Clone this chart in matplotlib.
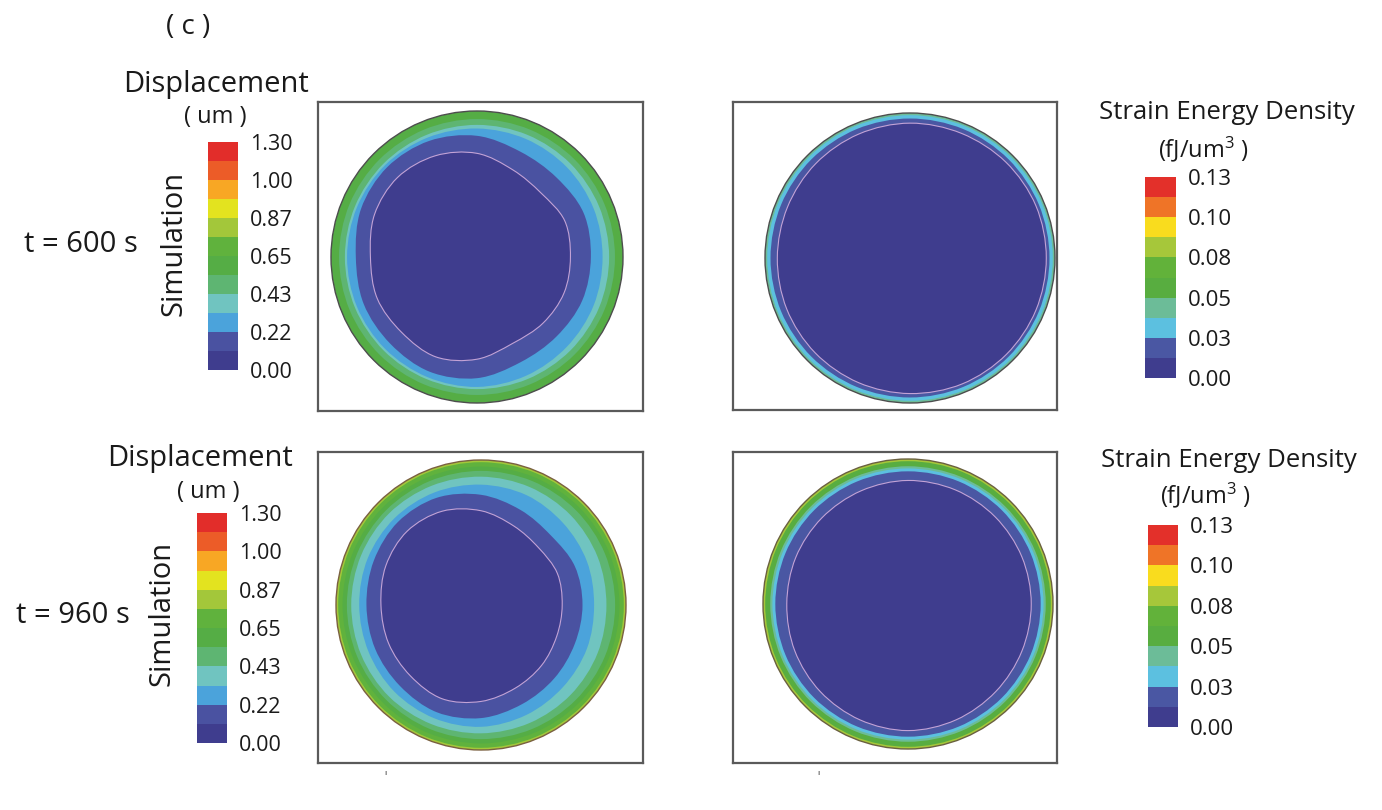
import numpy as np
import matplotlib
matplotlib.use("Agg")
import matplotlib.pyplot as plt
from matplotlib.colors import ListedColormap, BoundaryNorm
from matplotlib.cm import ScalarMappable
from matplotlib.path import Path
from matplotlib.patches import PathPatch, Circle

plt.rcParams["font.family"] = ["Open Sans", "DejaVu Sans"]
plt.rcParams["mathtext.fontset"] = "custom"
plt.rcParams["mathtext.rm"] = "Open Sans"
plt.rcParams["mathtext.it"] = "Open Sans"

W, H = 1382, 810

# contour level colours, lowest level first
disp_colors = ["#3f3d8e", "#4a52a1", "#4ba3db", "#70c4c0", "#5eb572", "#55ad45",
               "#60b23d", "#a3c73a", "#e3e31f", "#f8a724", "#ec5c28", "#e22d2a"]
disp_ticklabels = ["0.00", "0.22", "0.43", "0.65", "0.87", "1.00", "1.30"]

strain_colors = ["#3f3d8e", "#4a57a3", "#5cc0e0", "#6cbc98", "#58ad40",
                 "#62b23a", "#a6c73a", "#f9dc1e", "#ef7427", "#e3302a"]
strain_ticklabels = ["0.00", "0.03", "0.05", "0.08", "0.10", "0.13"]

# band boundaries: radius (r/R) sampled every 22.5 deg, counter-clockwise from +x
disp600_levels = [5, 4, 3, 2, 1, 0]
disp600_bounds = [
    [1.00] * 16,
    [0.945] * 16,
    [0.905] * 16,
    [0.86, 0.865, 0.87, 0.875, 0.88, 0.885, 0.89, 0.89, 0.89, 0.89, 0.89, 0.89, 0.89, 0.88, 0.87, 0.865],
    [0.78, 0.79, 0.77, 0.78, 0.83, 0.86, 0.87, 0.86, 0.83, 0.84, 0.84, 0.85, 0.83, 0.78, 0.77, 0.78],
    [0.64, 0.65, 0.62, 0.645, 0.71, 0.75, 0.77, 0.76, 0.73, 0.74, 0.73, 0.74, 0.70, 0.64, 0.64, 0.645],
]

disp960_levels = [7, 6, 5, 4, 3, 2, 1, 0]
disp960_bounds = [
    [1.00] * 16,
    [0.985] * 16,
    [0.955] * 16,
    [0.925] * 16,
    [0.865, 0.87, 0.875, 0.88, 0.885, 0.89, 0.895, 0.895, 0.895, 0.895, 0.895, 0.89, 0.885, 0.88, 0.875, 0.87],
    [0.78, 0.79, 0.80, 0.82, 0.83, 0.84, 0.845, 0.845, 0.84, 0.84, 0.845, 0.845, 0.84, 0.82, 0.80, 0.79],
    [0.70, 0.70, 0.68, 0.71, 0.76, 0.80, 0.81, 0.80, 0.79, 0.79, 0.79, 0.80, 0.78, 0.74, 0.715, 0.70],
    [0.56, 0.57, 0.56, 0.59, 0.65, 0.70, 0.72, 0.71, 0.69, 0.69, 0.69, 0.70, 0.665, 0.62, 0.59, 0.565],
]

strain600_levels = [3, 2, 1, 0]
strain600_bounds = [
    [1.00] * 16,
    [0.985] * 16,
    [0.962] * 16,
    [0.94, 0.94, 0.935, 0.93, 0.93, 0.925, 0.92, 0.915, 0.915, 0.92, 0.925, 0.93, 0.935, 0.94, 0.94, 0.94],
]

strain960_levels = [6, 4, 3, 2, 1, 0]
strain960_bounds = [
    [1.00] * 16,
    [0.985] * 16,
    [0.95] * 16,
    [0.935] * 16,
    [0.915] * 16,
    [0.85, 0.85, 0.85, 0.852, 0.852, 0.845, 0.84, 0.838, 0.836, 0.845, 0.855, 0.865, 0.873, 0.865, 0.855, 0.85],
]


def smooth_closed_path(radii):
    """Closed Catmull-Rom curve through the sampled boundary radii."""
    radii = np.asarray(radii, dtype=float)
    th = np.deg2rad(np.arange(len(radii)) * 360.0 / len(radii))
    pts = np.column_stack([radii * np.cos(th), radii * np.sin(th)])
    n = len(pts)
    verts = [pts[0]]
    codes = [Path.MOVETO]
    for i in range(n):
        p0, p1, p2, p3 = pts[i - 1], pts[i], pts[(i + 1) % n], pts[(i + 2) % n]
        verts += [p1 + (p2 - p0) / 6.0, p2 - (p3 - p1) / 6.0, p2]
        codes += [Path.CURVE4] * 3
    verts.append(pts[0])
    codes.append(Path.CLOSEPOLY)
    return Path(verts, codes)


def px_rect(x0, y0, x1, y1):
    return [x0 / W, 1 - y1 / H, (x1 - x0) / W, (y1 - y0) / H]


def draw_field(fig, box, centre, radius, levels, bounds, colors, edge="#4d4d4d"):
    x0, y0, x1, y1 = box
    cx, cy = centre
    ax = fig.add_axes(px_rect(*box))
    ax.set_xlim((x0 - cx) / radius, (x1 - cx) / radius)
    ax.set_ylim((cy - y1) / radius, (cy - y0) / radius)
    for lev, r in zip(levels, bounds):
        ax.add_patch(PathPatch(smooth_closed_path(r), facecolor=colors[lev],
                               edgecolor="none", zorder=1))
    # thin contour line round the lowest band
    ax.add_patch(PathPatch(smooth_closed_path(bounds[-1]), facecolor="none",
                           edgecolor="#c3a3d6", lw=0.8, zorder=2))
    ax.add_patch(Circle((0, 0), 1.0, facecolor="none", edgecolor=edge, lw=1.0, zorder=3))
    ax.set_xticks([])
    ax.set_yticks([])
    for s in ax.spines.values():
        s.set_color("#5a5a5a")
        s.set_linewidth(1.6)
    return ax


def draw_colorbar(fig, box, colors, ticklabels, fontsize):
    n = len(colors)
    cax = fig.add_axes(px_rect(*box))
    sm = ScalarMappable(norm=BoundaryNorm(np.arange(n + 1), n), cmap=ListedColormap(colors))
    cb = fig.colorbar(sm, cax=cax, ticks=np.arange(0, n + 1, 2))
    cb.set_ticklabels(ticklabels)
    cb.outline.set_visible(False)
    cax.minorticks_off()
    cax.yaxis.set_tick_params(which="both", length=0, width=0, pad=8.5,
                              labelsize=fontsize, labelcolor="#1a1a1a")
    return cb


def ftext(x, y, s, **kw):
    kw.setdefault("color", "#1a1a1a")
    fig.text(x / W, 1 - y / H, s, **kw)


fig = plt.figure(figsize=(W / 100, H / 100), dpi=100)
fig.patch.set_facecolor("white")

draw_field(fig, (318, 102, 643, 411), (477, 257), 146, disp600_levels, disp600_bounds, disp_colors)
draw_field(fig, (733, 102, 1057, 410), (910, 258), 145, strain600_levels, strain600_bounds, strain_colors)
draw_field(fig, (318, 452, 643, 763), (481, 605), 145, disp960_levels, disp960_bounds, disp_colors,
           edge="#7a6040")
draw_field(fig, (733, 452, 1057, 763), (908, 604), 145, strain960_levels, strain960_bounds, strain_colors,
           edge="#6a6040")

draw_colorbar(fig, (208, 142, 238, 370), disp_colors, disp_ticklabels, 15.5)
draw_colorbar(fig, (197, 513, 227, 743), disp_colors, disp_ticklabels, 15.5)
draw_colorbar(fig, (1145, 177, 1176, 378), strain_colors, strain_ticklabels, 16)
draw_colorbar(fig, (1148, 525, 1178, 727), strain_colors, strain_ticklabels, 16)

ftext(188, 34, "( c )", fontsize=20, ha="center", va="baseline")

ftext(216, 92, "Displacement", fontsize=21, ha="center", va="baseline")
ftext(215, 123, "( um )", fontsize=17, ha="center", va="baseline")
ftext(200, 466, "Displacement", fontsize=21, ha="center", va="baseline")
ftext(208, 498, "( um )", fontsize=17, ha="center", va="baseline")

ftext(1227, 119, "Strain Energy Density", fontsize=18.5, ha="center", va="baseline")
ftext(1203, 157, "(fJ/um$^{3}$ )", fontsize=17, ha="center", va="baseline")
ftext(1229, 467, "Strain Energy Density", fontsize=18.5, ha="center", va="baseline")
ftext(1205, 503, "(fJ/um$^{3}$ )", fontsize=17, ha="center", va="baseline")

ftext(174, 243, "Simulation", fontsize=21, rotation=90, ha="center", va="center")
ftext(162, 613, "Simulation", fontsize=21, rotation=90, ha="center", va="center")
ftext(81, 252, "t = 600 s", fontsize=21, ha="center", va="baseline")
ftext(73, 623, "t = 960 s", fontsize=21, ha="center", va="baseline")

ftext(385, 775, "ı", fontsize=6, ha="center", va="baseline")
ftext(818, 775, "ı", fontsize=6, ha="center", va="baseline")

fig.savefig("out.png", dpi=100, facecolor="white")
